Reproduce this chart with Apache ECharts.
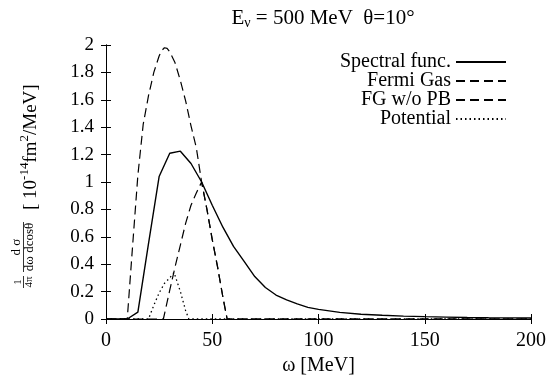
<!DOCTYPE html>
<html>
<head>
<meta charset="utf-8">
<script src="https://cdn.jsdelivr.net/npm/echarts@6/dist/echarts.min.js"></script>
<style>
  html, body { margin: 0; padding: 0; background: #fff; }
  #chart { width: 551px; height: 379px; }
</style>
</head>
<body>
<div id="chart"></div>
<script>
// omega grid [MeV] and cross sections [10^-14 fm^2/MeV]
const spectralW = [0, 5, 10, 15, 20, 25, 30, 35, 40, 45, 50, 55, 60, 65, 70, 75, 80, 85, 90, 95, 100, 110, 120, 130, 140, 150, 160, 170, 180, 190, 200]
const spectralY = [0, 0, 0, 0.05, 0.55, 1.04, 1.21, 1.225, 1.135, 1.0, 0.83, 0.67, 0.53, 0.42, 0.31, 0.23, 0.175, 0.14, 0.11, 0.085, 0.07, 0.048, 0.035, 0.027, 0.021, 0.017, 0.014, 0.011, 0.009, 0.008, 0.007]

const fermiW = [0, 25, 27, 30, 32.5, 35, 37.5, 40, 42.5, 45, 47.5, 50, 52.5, 55, 57, 200]
const fermiY = [0, 0, 0, 0.21, 0.38, 0.54, 0.7, 0.83, 0.92, 1.0, 0.8, 0.58, 0.38, 0.16, 0, 0]

const noPbW = [0, 10, 12.5, 15, 17.5, 20, 22.5, 25, 26.25, 27.5, 28.75, 30, 32.5, 35, 37.5, 40, 42.5, 45, 47.5, 50, 52.5, 55, 57, 200]
const noPbY = [0, 0, 0.53, 1.05, 1.42, 1.63, 1.8, 1.92, 1.96, 1.98, 1.975, 1.95, 1.87, 1.74, 1.59, 1.41, 1.25, 1.0, 0.8, 0.58, 0.38, 0.16, 0, 0]

const potentialW = [0, 20, 22.5, 25, 27.5, 30, 32, 35, 37.5, 39, 200]
const potentialY = [0, 0, 0.1, 0.19, 0.26, 0.3, 0.34, 0.2, 0.06, 0, 0]

const names = ["Spectral func.", "Fermi Gas", "FG w/o PB", "Potential"]

const zip = (xs, ys) => xs.map((x, i) => [x, ys[i]])

const FONT = "Liberation Serif"
const chart = echarts.init(document.getElementById("chart"))

const axisCommon = {
  axisLine: { show: true, lineStyle: { color: "#000", width: 1 } },
  axisTick: { show: true, inside: true, length: 5, lineStyle: { color: "#000" } },
  splitLine: { show: false },
}

function series(name, xs, ys, type, width) {
  return {
    name: name,
    type: "line",
    data: zip(xs, ys),
    symbol: "none",
    animation: false,
    lineStyle: { color: "#000", width: width, type: type },
    itemStyle: { color: "#000" },
  }
}

// gnuplot style key: text on the left, sample on the right, one row each
const legendRows = [62, 81, 100, 119]
const legends = names.map((n, i) => ({
  data: [n],
  right: 44,
  top: legendRows[i] - 10,
  align: "right",
  padding: 0,
  itemWidth: 50,
  itemHeight: 10,
  selectedMode: false,
  itemStyle: { opacity: 0 },
  textStyle: { fontFamily: FONT, fontSize: 20, color: "#000", lineHeight: 20 },
}))

const option = {
  animation: false,
  backgroundColor: "#fff",
  title: {
    text: "E{sub|ν} = 500 MeV  θ=10°",
    left: 318,
    top: 1,
    textAlign: "center",
    textStyle: {
      fontFamily: FONT,
      fontSize: 21,
      fontWeight: "normal",
      color: "#000",
      rich: { sub: { fontFamily: FONT, fontSize: 14, padding: [10, 0, 0, 0] } },
    },
  },
  legend: legends,
  grid: { left: 106, right: 20, top: 45, bottom: 60, outerBoundsMode: "none" },
  xAxis: [
    Object.assign({
      type: "value",
      min: 0,
      max: 200,
      interval: 50,
      name: "ω [MeV]",
      nameLocation: "middle",
      nameGap: 21,
      nameTextStyle: { fontFamily: FONT, fontSize: 20, color: "#000" },
      axisLabel: { fontFamily: FONT, fontSize: 20, color: "#000", margin: 12 },
    }, axisCommon),
    Object.assign({
      type: "value", min: 0, max: 200, interval: 50, position: "top",
      axisLabel: { show: false },
    }, axisCommon),
  ],
  yAxis: [
    Object.assign({
      type: "value",
      min: 0,
      max: 2,
      interval: 0.2,
      axisLabel: { fontFamily: FONT, fontSize: 19, color: "#000", margin: 12 },
    }, axisCommon),
    Object.assign({
      type: "value", min: 0, max: 2, interval: 0.2, position: "right",
      axisLabel: { show: false },
    }, axisCommon),
  ],
  series: [
    series(names[0], spectralW, spectralY, "solid", 1.4),
    series(names[1], fermiW, fermiY, [9, 5], 1.2),
    series(names[2], noPbW, noPbY, [9, 5], 1.2),
    series(names[3], potentialW, potentialY, [1.5, 3], 1.3),
  ],
  graphic: [
    {
      // rotated y axis title: 1/4pi  d sigma / (d omega d cos theta) [10^-14 fm^2/MeV]
      type: "group",
      x: 37,
      y: 290,
      rotation: Math.PI / 2,
      children: [
        { type: "text", x: 8, y: -19, style: { text: "1", font: "11px " + FONT, fill: "#000", textAlign: "center", textVerticalAlign: "middle" } },
        { type: "line", shape: { x1: 2, y1: -13.5, x2: 14, y2: -13.5 }, style: { stroke: "#000", lineWidth: 0.8 } },
        { type: "text", x: 8, y: -8, style: { text: "4π", font: "11px " + FONT, fill: "#000", textAlign: "center", textVerticalAlign: "middle" } },
        { type: "text", x: 43, y: -20, style: { text: "d σ", font: "13px " + FONT, fill: "#000", textAlign: "center", textVerticalAlign: "middle" } },
        { type: "line", shape: { x1: 18, y1: -13.5, x2: 68, y2: -13.5 }, style: { stroke: "#000", lineWidth: 0.8 } },
        { type: "text", x: 43, y: -7, style: { text: "dω dcosθ", font: "13px " + FONT, fill: "#000", textAlign: "center", textVerticalAlign: "middle" } },
        {
          type: "text", x: 80, y: -6,
          style: {
            text: "[ 10{sup|-14}fm{sup|2}/MeV]",
            font: "19px " + FONT,
            fill: "#000",
            textAlign: "left",
            textVerticalAlign: "middle",
            rich: { sup: { fontFamily: FONT, fontSize: 13, fill: "#000", padding: [0, 0, 12, 0] } },
          },
        },
      ],
    },
  ],
}

option && chart.setOption(option)
</script>
</body>
</html>
